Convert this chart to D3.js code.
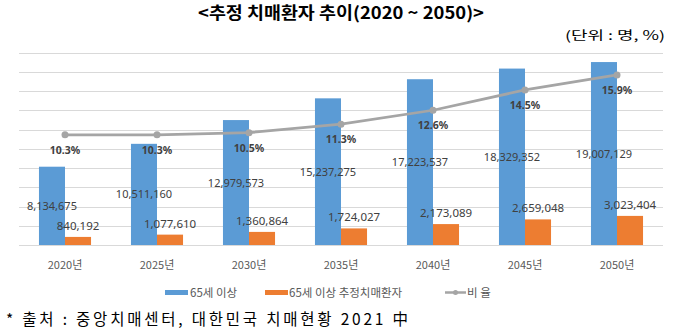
<!DOCTYPE html>
<html><head><meta charset="utf-8">
<script src="https://cdn.jsdelivr.net/npm/d3@7"></script>
<style>
html,body{margin:0;padding:0;background:#fff;}
svg{display:block;}
</style>
</head><body>
<svg id="c" width="680" height="329"></svg>
<script>
const years = ['2020년','2025년','2030년','2035년','2040년','2045년','2050년'];
const pop65 = [8134675, 10511160, 12979573, 15237275, 17223537, 18329352, 19007129];
const dementia = [840192, 1077610, 1360864, 1724027, 2173089, 2659048, 3023404];
const ratio = [10.3, 10.3, 10.5, 11.3, 12.6, 14.5, 15.9];
const seriesNames = ['65세 이상', '65세 이상 추정치매환자', '비 율'];
const yTicks = d3.range(0, 20000001, 2000000);

const svg = d3.select('#c');
const KR = "'Noto Sans CJK KR','Noto Sans',sans-serif";
const NUM = "'Noto Sans','Noto Sans CJK KR',sans-serif";
const blue = '#5B9BD5', orange = '#ED7D31', grey = '#A5A5A5';

const x = d3.scaleBand().domain(years).range([19, 663]).paddingInner(0).paddingOuter(0);
const y = d3.scaleLinear().domain([0, 20000000]).range([245, 52.5]);
const y2 = d3.scaleLinear().domain([0, 18]).range([245, 52.5]);
const bw = x.bandwidth() * 0.283;
const cx = d => x(d) + x.bandwidth() / 2;

// title
svg.append('text').attr('x', 341).attr('y', 19).attr('text-anchor', 'middle')
  .attr('font-family', KR).attr('font-weight', 'bold').attr('font-size', 17)
  .attr('textLength', 286).attr('lengthAdjust', 'spacingAndGlyphs')
  .attr('fill', '#000').text('<추정 치매환자 추이(2020 ~ 2050)>');

// unit
svg.append('text').attr('x', 665).attr('y', 39.5).attr('text-anchor', 'end')
  .attr('font-family', KR).attr('font-size', 12.5)
  .attr('textLength', 100).attr('lengthAdjust', 'spacingAndGlyphs')
  .attr('fill', '#000').text('(단위 : 명, %)');

// gridlines
svg.append('g').selectAll('line').data(yTicks).join('line')
  .attr('x1', 19).attr('x2', 663)
  .attr('y1', d => Math.round(y(d)) + 0.5).attr('y2', d => Math.round(y(d)) + 0.5)
  .attr('stroke', '#D9D9D9').attr('stroke-width', 1);

// bars
svg.append('g').selectAll('rect').data(years).join('rect')
  .attr('x', (d) => cx(d) - bw).attr('width', bw)
  .attr('y', (d, i) => y(pop65[i])).attr('height', (d, i) => y(0) - y(pop65[i]))
  .attr('fill', blue);
svg.append('g').selectAll('rect').data(years).join('rect')
  .attr('x', (d) => cx(d)).attr('width', bw)
  .attr('y', (d, i) => y(dementia[i])).attr('height', (d, i) => y(0) - y(dementia[i]))
  .attr('fill', orange);

// line
const line = d3.line().x((d, i) => cx(years[i])).y(d => y2(d));
svg.append('path').datum(ratio).attr('d', line)
  .attr('fill', 'none').attr('stroke', grey).attr('stroke-width', 2.75)
  .attr('stroke-linejoin', 'round');
svg.append('g').selectAll('circle').data(ratio).join('circle')
  .attr('cx', (d, i) => cx(years[i])).attr('cy', d => y2(d)).attr('r', 3.5)
  .attr('fill', grey);

const fmt = d3.format(',');
// blue labels (center)
svg.append('g').selectAll('text').data(pop65).join('text')
  .attr('x', (d, i) => cx(years[i]) - bw / 2 ).attr('y', d => (y(d) + y(0)) / 2 + 4)
  .attr('text-anchor', 'middle').attr('font-family', NUM).attr('font-size', 11)
  .attr('fill', '#404040').text(d => fmt(d));
// orange labels (outside end)
svg.append('g').selectAll('text').data(dementia).join('text')
  .attr('x', (d, i) => cx(years[i]) + bw / 2).attr('y', d => y(d) - 7)
  .attr('text-anchor', 'middle').attr('font-family', NUM).attr('font-size', 11.5)
  .attr('fill', '#404040').text(d => fmt(d));
// ratio labels (below)
svg.append('g').selectAll('text').data(ratio).join('text')
  .attr('x', (d, i) => cx(years[i])).attr('y', d => y2(d) + 19)
  .attr('text-anchor', 'middle').attr('font-family', NUM).attr('font-size', 10.5)
  .attr('font-weight', 'bold').attr('fill', '#404040').text(d => d.toFixed(1) + '%');

// x axis labels
svg.append('g').selectAll('text').data(years).join('text')
  .attr('x', d => cx(d)).attr('y', 269)
  .attr('text-anchor', 'middle').attr('font-family', KR).attr('font-size', 11)
  .attr('fill', '#595959').text(d => d);

// legend
const lg = svg.append('g').attr('font-family', KR).attr('font-size', 11.5).attr('fill', '#595959');
lg.append('rect').attr('x', 165).attr('y', 290).attr('width', 23).attr('height', 5).attr('fill', blue);
lg.append('text').attr('x', 190).attr('y', 297).text(seriesNames[0]);
lg.append('rect').attr('x', 265).attr('y', 290).attr('width', 23).attr('height', 5).attr('fill', orange);
lg.append('text').attr('x', 289).attr('y', 297).text(seriesNames[1]);
lg.append('line').attr('x1', 445).attr('x2', 466).attr('y1', 292.5).attr('y2', 292.5)
  .attr('stroke', grey).attr('stroke-width', 2.5);
lg.append('circle').attr('cx', 455.5).attr('cy', 292.5).attr('r', 2.5).attr('fill', grey);
lg.append('text').attr('x', 467).attr('y', 297).text(seriesNames[2]);

// source
svg.append('text').attr('x', 6).attr('y', 325)
  .attr('font-family', KR).attr('font-size', 15.5)
  .attr('textLength', 402).attr('lengthAdjust', 'spacing')
  .attr('fill', '#000').text('* 출처 : 중앙치매센터, 대한민국 치매현황 2021 中');
</script>
</body></html>
